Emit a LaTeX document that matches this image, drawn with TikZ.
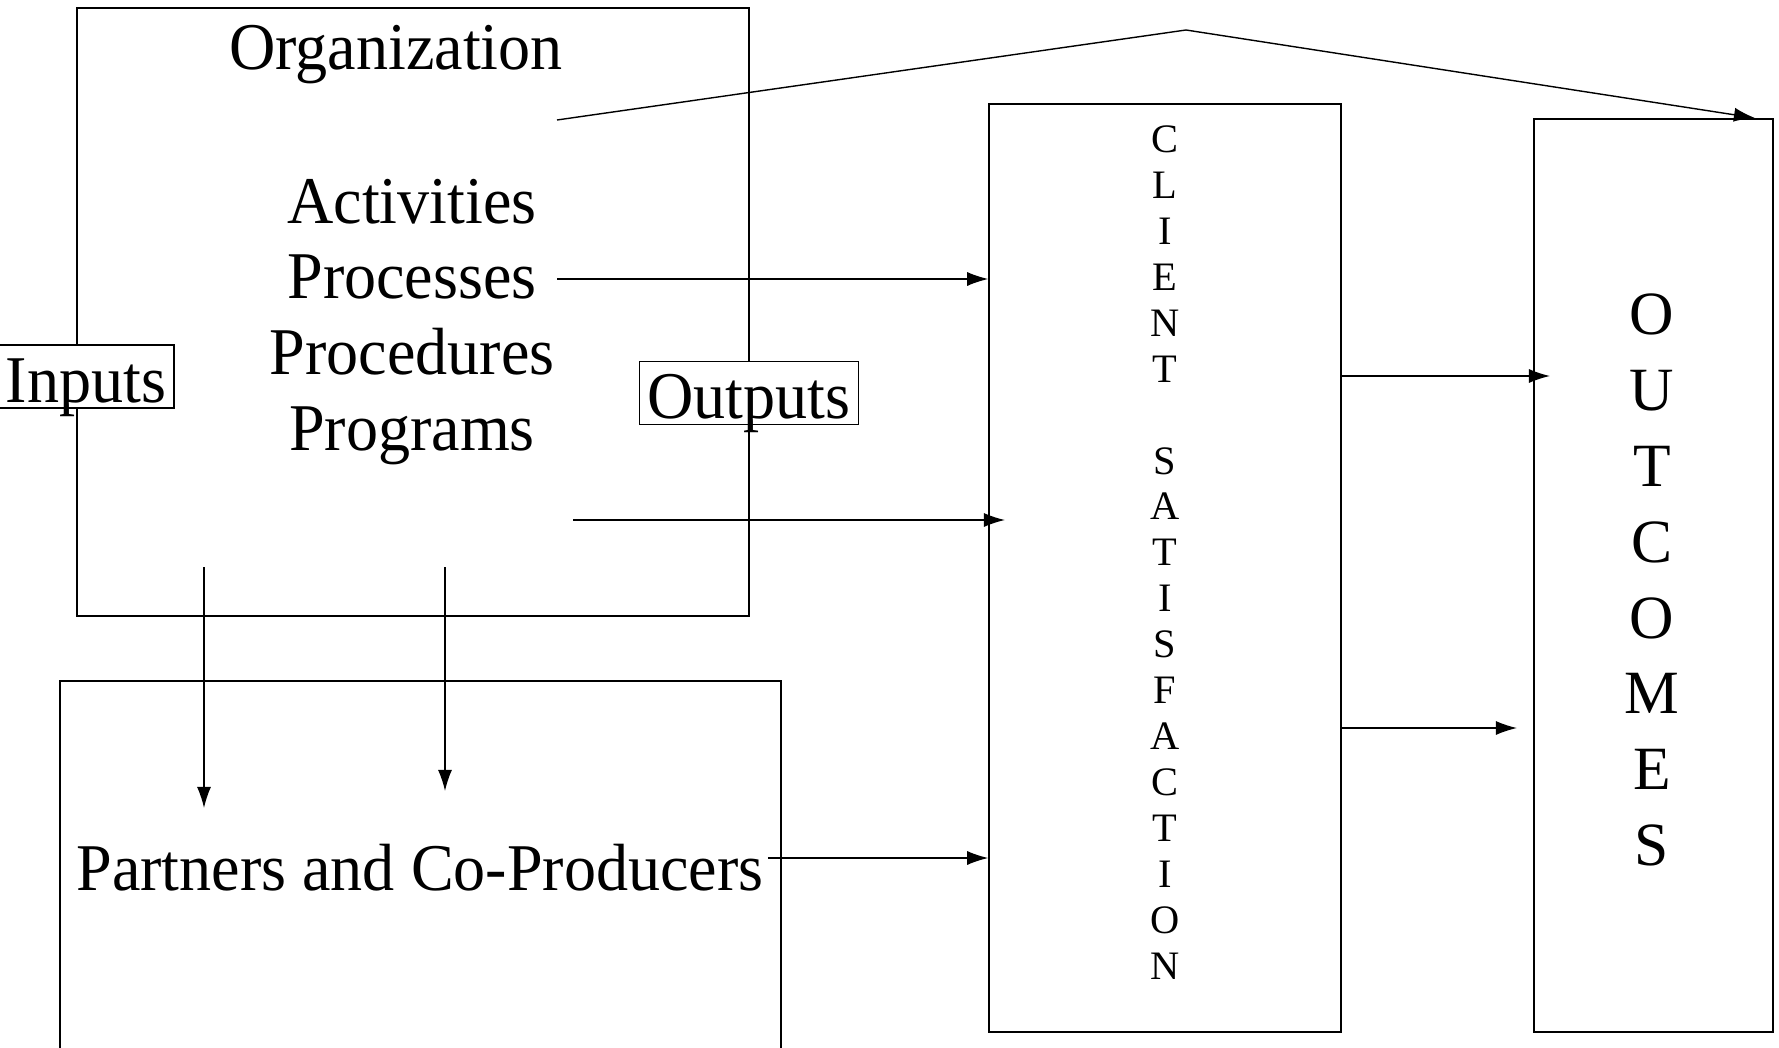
\documentclass[tikz,border=0pt]{standalone}
\usepackage{fontspec}
\setmainfont{Liberation Serif}
\newfontfamily\narrowserif{Liberation Serif}[FakeStretch=0.96]
\usetikzlibrary{arrows.meta,positioning}

\begin{document}
\begin{tikzpicture}[>={Latex[length=6pt,width=4pt]},
    box/.style={draw, inner sep=0pt},
    label/.style={font=\narrowserif\fontsize{19}{21.6}\selectfont, inner sep=1pt},
    tag/.style={draw, fill=white, font=\narrowserif\fontsize{19}{21.6}\selectfont,
      text height=0.51cm, text depth=0cm, inner xsep=0.08cm, inner ysep=0.06cm}]
  \useasboundingbox (0,0) rectangle (17.79,10.47);

  \node[box, minimum width=6.72cm, minimum height=6.08cm] (org) at (4.13,7.35) {};
  \node[box, minimum width=7.21cm, minimum height=3.86cm] (part) at (4.205,1.73) {};
  \node[box, minimum width=3.52cm, minimum height=9.28cm] (client) at (11.65,4.79) {};
  \node[box, minimum width=2.39cm, minimum height=9.13cm] (outc) at (16.535,4.715) {};

  \node[label] (orgname) at (3.96,9.92) {Organization};
  \node[label, align=center] (acts) at (4.12,7.25) {Activities\\Processes\\Procedures\\Programs};
  \node[label] (parttxt) at (4.20,1.79) {Partners and Co-Producers};

  \node[font=\fontsize{11.5}{13.06}\selectfont, align=center] (cstxt) at (11.65,4.945)
    {C\\L\\I\\E\\N\\T\\[13.06pt]S\\A\\T\\I\\S\\F\\A\\C\\T\\I\\O\\N};
  \node[font=\fontsize{17.5}{21.6}\selectfont, align=center] (outtxt) at (16.52,4.67)
    {O\\U\\T\\C\\O\\M\\E\\S};

  \coordinate (topout) at (5.57,9.27);
  \coordinate (apex) at (11.86,10.17);
  \coordinate (topin) at (17.55,9.29);
  \draw [->] (topout) -- (apex) -- (topin);

  \coordinate (procout) at (5.57,7.68);
  \draw [->] (procout) -- (procout -| client.west);
  \coordinate (progout) at (5.73,5.27);
  \coordinate (progin) at (10.05,5.27);
  \draw [->] (progout) -- (progin);
  \coordinate (partout) at ([yshift=1mm]parttxt.east);
  \draw [->] (partout) -- (partout -| client.west);

  \coordinate (csout1) at (13.41,6.71);
  \coordinate (csin1) at (15.50,6.71);
  \draw [->] (csout1) -- (csin1);
  \coordinate (csout2) at (13.41,3.19);
  \coordinate (csin2) at (15.17,3.19);
  \draw [->] (csout2) -- (csin2);

  \coordinate (down1) at (2.04,4.80);
  \coordinate (down1end) at (2.04,2.39);
  \draw [->] (down1) -- (down1end);
  \coordinate (down2) at (4.45,4.80);
  \coordinate (down2end) at (4.45,2.56);
  \draw [->] (down2) -- (down2end);

  \node[tag] (inputs) at (0.86,6.705) {Inputs};
  \node[tag] (outputs) at (7.49,6.54) {Outputs};
\end{tikzpicture}
\end{document}
